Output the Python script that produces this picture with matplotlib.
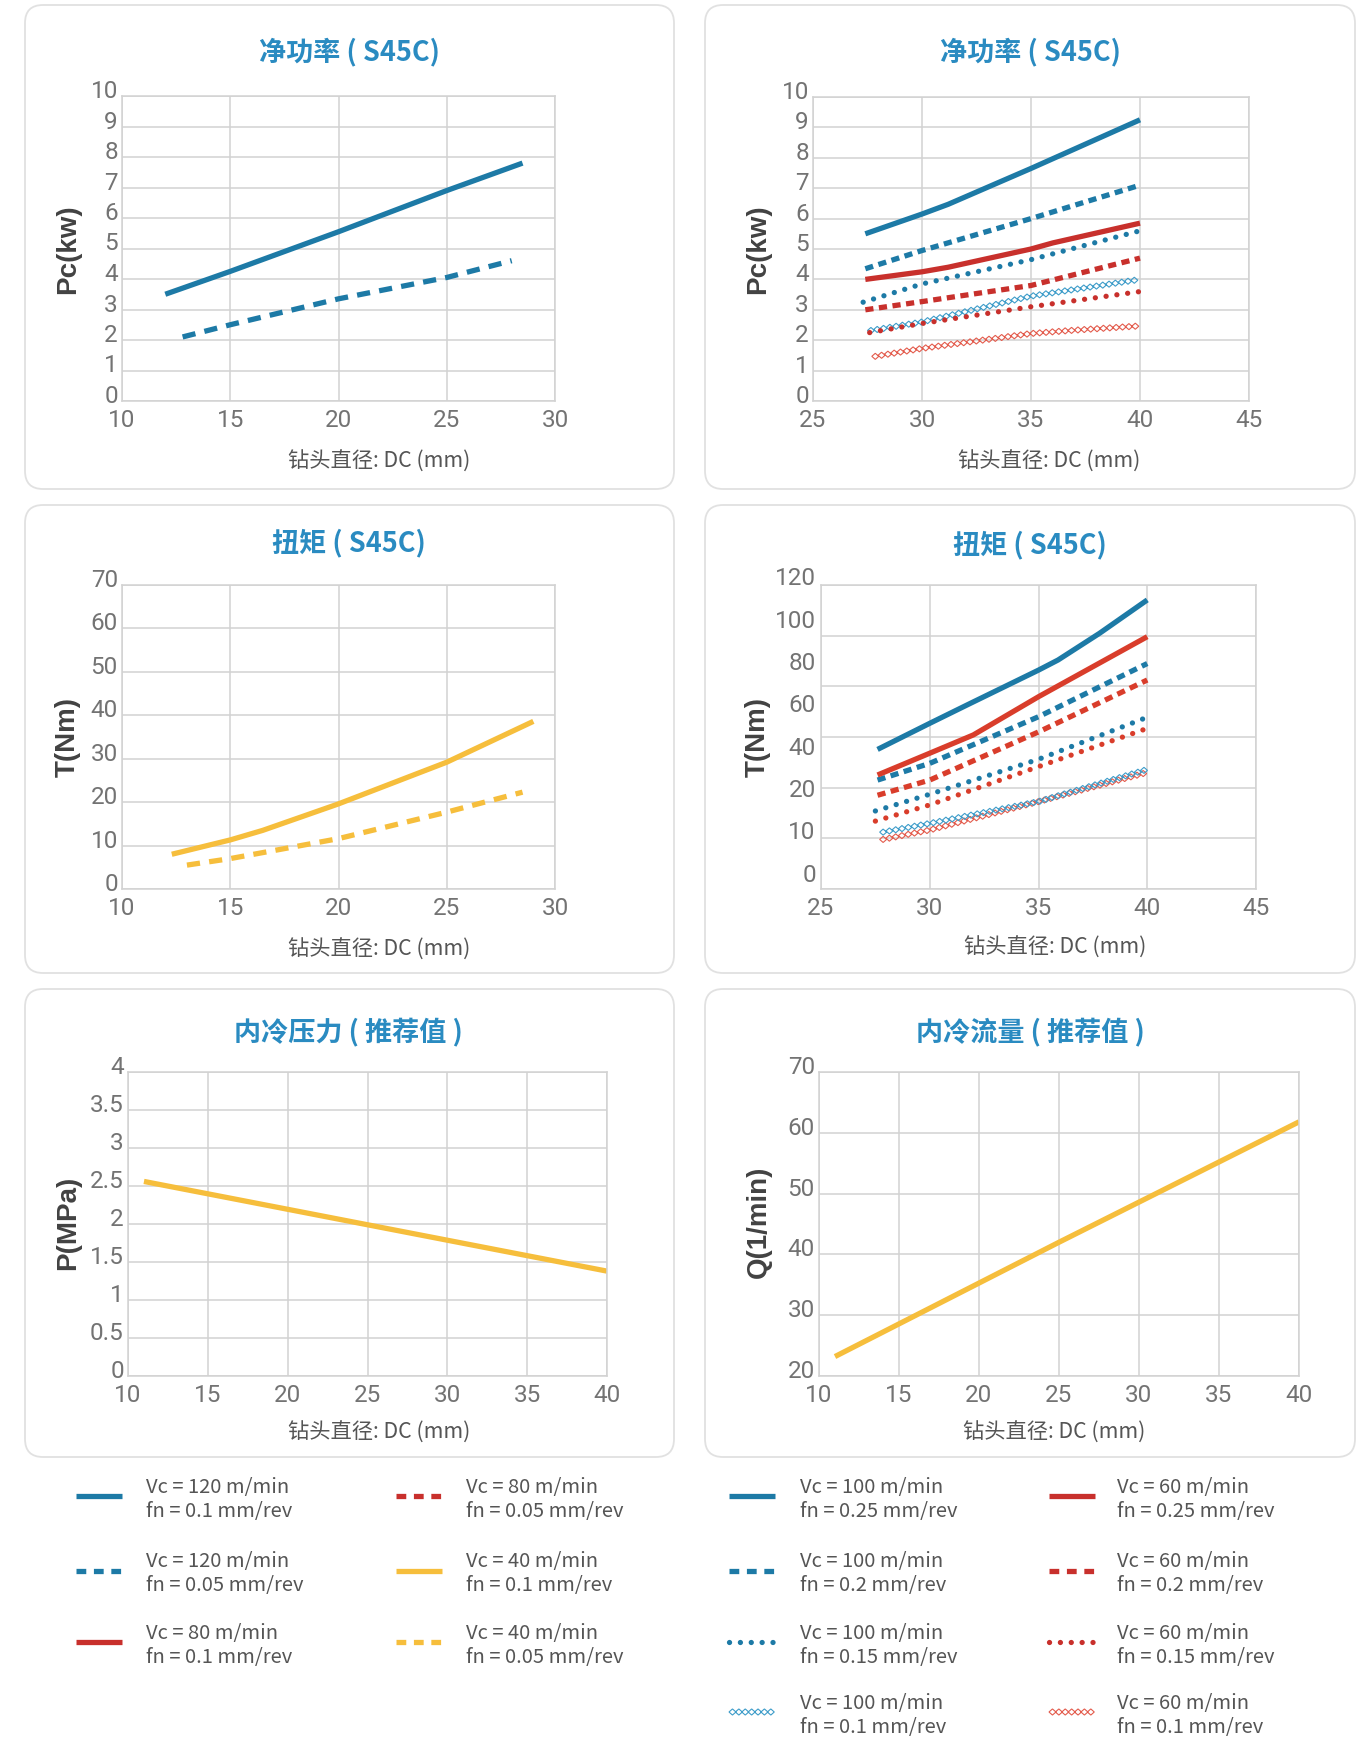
import numpy as np
import matplotlib
matplotlib.use("Agg")
import matplotlib.pyplot as plt
from matplotlib.patches import FancyBboxPatch
from matplotlib.patheffects import AbstractPathEffect
from matplotlib.path import Path
from matplotlib.transforms import IdentityTransform, ScaledTranslation

plt.rcParams["font.family"] = ["Noto Sans CJK SC", "DejaVu Sans"]

W, H = 1364, 1737

# ---------------- data ----------------
# 净功率 (S45C), drill diameters 10-30 mm
PC_S_DC_V120_F010 = [12.0, 15.0, 20.0, 25.0, 28.5]
PC_S_V120_F010 = [3.5, 4.25, 5.55, 6.9, 7.8]
PC_S_DC_V120_F005 = [12.8, 15.0, 20.0, 25.0, 28.0]
PC_S_V120_F005 = [2.1, 2.5, 3.35, 4.05, 4.6]

# 净功率 (S45C), drill diameters 27-40 mm
PC_L_DC_V100_F025 = [27.4, 30.0, 31.2, 35.0, 40.0]
PC_L_V100_F025 = [5.5, 6.15, 6.47, 7.65, 9.25]
PC_L_DC_V100_F020 = [27.4, 30.0, 35.0, 40.0]
PC_L_V100_F020 = [4.35, 4.95, 6.0, 7.1]
PC_L_DC_V100_F015 = [27.3, 30.0, 35.0, 40.0]
PC_L_V100_F015 = [3.25, 3.85, 4.65, 5.6]
PC_L_DC_V100_F010 = [27.5, 30.0, 35.0, 40.0]
PC_L_V100_F010 = [2.3, 2.6, 3.45, 4.0]
PC_L_DC_V60_F025 = [27.4, 30.0, 31.2, 35.0, 36.0, 40.0]
PC_L_V60_F025 = [4.0, 4.25, 4.4, 5.0, 5.2, 5.85]
PC_L_DC_V60_F020 = [27.4, 30.0, 35.0, 40.0]
PC_L_V60_F020 = [3.0, 3.27, 3.8, 4.7]
PC_L_DC_V60_F015 = [27.6, 30.0, 35.0, 40.0]
PC_L_V60_F015 = [2.25, 2.55, 3.1, 3.6]
PC_L_DC_V60_F010 = [27.7, 30.0, 35.0, 37.0, 40.0]
PC_L_V60_F010 = [1.45, 1.73, 2.22, 2.33, 2.47]

# 扭矩 (S45C), drill diameters 10-30 mm
T_S_DC_V40_F010 = [12.3, 15.0, 16.5, 20.0, 25.0, 29.0]
T_S_V40_F010 = [8.0, 11.3, 13.5, 19.6, 29.2, 38.6]
T_S_DC_V40_F005 = [13.0, 15.0, 20.0, 25.0, 28.5]
T_S_V40_F005 = [5.5, 7.0, 11.6, 17.7, 22.3]

# 扭矩 (S45C), drill diameters 27-40 mm
T_L_DC_V100_F025 = [27.6, 30.0, 31.8, 35.0, 35.9, 37.8, 40.0]
T_L_V100_F025 = [55.1, 65.4, 73.0, 86.4, 90.4, 100.9, 114.1]
T_L_DC_V100_F020 = [27.6, 30.0, 35.0, 40.0]
T_L_V100_F020 = [43.0, 49.6, 68.0, 89.0]
T_L_DC_V100_F015 = [27.5, 30.0, 35.0, 40.0]
T_L_V100_F015 = [30.8, 37.4, 51.2, 67.8]
T_L_DC_V100_F010 = [27.7, 30.0, 35.0, 40.0]
T_L_V100_F010 = [22.2, 25.9, 34.5, 47.2]
T_L_DC_V60_F025 = [27.6, 30.0, 32.0, 35.0, 40.0]
T_L_V60_F025 = [45.0, 53.6, 60.8, 75.9, 99.6]
T_L_DC_V60_F020 = [27.6, 30.0, 35.0, 40.0]
T_L_V60_F020 = [37.0, 43.0, 62.0, 82.5]
T_L_DC_V60_F015 = [27.5, 30.0, 35.0, 40.0]
T_L_V60_F015 = [26.8, 33.2, 48.3, 63.4]
T_L_DC_V60_F010 = [27.7, 30.0, 35.0, 40.0]
T_L_V60_F010 = [19.3, 23.3, 34.5, 46.0]
T_L_TICK_TEXT = ["0", "10", "20", "40", "60", "80", "100", "120"]

# 内冷压力 / 内冷流量 (推荐值)
COOL_DC = [11.0, 25.0, 40.0]
COOL_P = [2.56, 1.99, 1.38]
COOL_Q = [23.2, 42.0, 61.8]

# legend texts
LEG_L_VC = ["Vc = 120 m/min", "Vc = 120 m/min", "Vc = 80 m/min",
            "Vc = 80 m/min", "Vc = 40 m/min", "Vc = 40 m/min"]
LEG_L_FN = ["fn = 0.1 mm/rev", "fn = 0.05 mm/rev", "fn = 0.1 mm/rev",
            "fn = 0.05 mm/rev", "fn = 0.1 mm/rev", "fn = 0.05 mm/rev"]
LEG_R_VC = ["Vc = 100 m/min"] * 4 + ["Vc = 60 m/min"] * 4
LEG_R_FN = ["fn = 0.25 mm/rev", "fn = 0.2 mm/rev", "fn = 0.15 mm/rev", "fn = 0.1 mm/rev"] * 2

# ---------------- styling ----------------
BLUE = "#1d7aa6"
BLUE_LIGHT = "#3d9cc9"
RED = "#c8302c"
RED_T = "#d93d2b"
RED_LIGHT = "#e35b4c"
YELLOW = "#f6be3c"
TITLE_C = "#2a8bc1"
GRID_C = "#d2d2d2"
TICK_C = "#737373"
LABEL_C = "#424242"
TEXT_C = "#555555"
LW = 3.8
TICK_FONT = dict(family=["Roboto", "DejaVu Sans"], fontweight="normal", fontsize=17.5, color=TICK_C)


class DiamondTrail(AbstractPathEffect):
    """Draws a chain of small open diamonds along the rendered path."""

    def __init__(self, color, step=4.6, half_w=2.5, half_h=2.2, width=0.8):
        super().__init__()
        self.color, self.step = color, step
        self.half_w, self.half_h, self.width = half_w, half_h, width

    def draw_path(self, renderer, gc, tpath, affine, rgbFace=None):
        xy = affine.transform(tpath.vertices)
        seg = np.hypot(*np.diff(xy, axis=0).T)
        cum = np.concatenate([[0.0], np.cumsum(seg)])
        step = renderer.points_to_pixels(self.step)
        hw = renderer.points_to_pixels(self.half_w)
        hh = renderer.points_to_pixels(self.half_h)
        s = np.arange(hw, cum[-1] - 0.5 * hw, step)
        if len(s) == 0:
            return
        cx = np.interp(s, cum, xy[:, 0])
        cy = np.interp(s, cum, xy[:, 1])
        verts, codes = [], []
        for x, y in zip(cx, cy):
            verts += [(x - hw, y), (x, y + hh), (x + hw, y), (x, y - hh), (x - hw, y)]
            codes += [Path.MOVETO, Path.LINETO, Path.LINETO, Path.LINETO, Path.CLOSEPOLY]
        gc0 = renderer.new_gc()
        gc0.copy_properties(gc)
        gc0.set_foreground(self.color)
        gc0.set_linewidth(self.width)
        gc0.set_dashes(0, None)
        gc0.set_joinstyle("miter")
        renderer.draw_path(gc0, Path(verts, codes), IdentityTransform(), None)
        gc0.restore()


def style(kind, color, dash=None):
    if kind == "solid":
        return dict(color=color, lw=LW, ls="-", solid_capstyle="butt")
    if kind == "dash":
        return dict(color=color, lw=LW, ls=(0, dash), dash_capstyle="butt")
    if kind == "dot":
        return dict(color=color, lw=LW, ls=(0, (0.01, 2.05)), dash_capstyle="round")
    return dict(color=color, lw=1, path_effects=[DiamondTrail(color)])


LONG_DASH = (2.5, 1.75)
SHORT_DASH = (1.55, 1.05)
LEG_DASH = (1.85, 1.45)

fig = plt.figure(figsize=(W / 100, H / 100), dpi=100, facecolor="white")

# background layer in pixel coordinates: panels, titles, labels, legend
bg = fig.add_axes([0, 0, 1, 1])
bg.set_xlim(0, W)
bg.set_ylim(H, 0)
bg.axis("off")

PANELS = [(25, 5, 674, 489), (705, 5, 1355, 489),
          (25, 505, 674, 973), (705, 505, 1355, 973),
          (25, 989, 674, 1457), (705, 989, 1355, 1457)]
for x0, y0, x1, y1 in PANELS:
    bg.add_patch(FancyBboxPatch((x0, y0), x1 - x0, y1 - y0,
                                boxstyle="round,pad=0,rounding_size=18",
                                fc="white", ec="#e1e1e1", lw=1.3))


def make_axes(x0, y0, x1, y1):
    return fig.add_axes([x0 / W, 1 - y1 / H, (x1 - x0) / W, (y1 - y0) / H])


def dress(ax, xlim, xticks, ylim, yticks, ylabels=True):
    ax.set_xlim(*xlim)
    ax.set_ylim(*ylim)
    ax.set_xticks(xticks)
    ax.set_yticks(yticks)
    ax.set_xticklabels([f"{t:g}" for t in xticks])
    if ylabels:
        ax.set_yticklabels([f"{t:g}" for t in yticks])
    else:
        ax.set_yticklabels([])
    ax.grid(True, color=GRID_C, lw=1.1)
    ax.set_axisbelow(True)
    for sp in ax.spines.values():
        sp.set_color(GRID_C)
        sp.set_linewidth(1.1)
    ax.tick_params(length=0, pad=3)
    ax.tick_params(axis="x", pad=6)
    up = ScaledTranslation(0, 0.07, fig.dpi_scale_trans)
    for lbl in ax.get_xticklabels() + ax.get_yticklabels():
        lbl.set_fontfamily(TICK_FONT["family"])
        lbl.set_fontweight(TICK_FONT["fontweight"])
        lbl.set_fontsize(TICK_FONT["fontsize"])
        lbl.set_color(TICK_FONT["color"])
    for lbl in ax.get_yticklabels():
        lbl.set_transform(lbl.get_transform() + up)


def header(cx, cy, text):
    bg.text(cx, cy, text, ha="center", va="center", fontsize=19.5,
            fontweight="bold", color=TITLE_C)


def xlab(cx, cy):
    bg.text(cx, cy, "钻头直径: DC (mm)", ha="center", va="center",
            fontsize=15.3, color=TEXT_C)


def ylab(cx, cy, text):
    bg.text(cx, cy, text, ha="center", va="center", rotation=90, fontsize=20,
            fontweight="bold", color=LABEL_C,
            family=["Liberation Sans", "DejaVu Sans"])


# ---- 净功率, small ----
ax = make_axes(122, 96, 555, 401)
ax.plot(PC_S_DC_V120_F010, PC_S_V120_F010, **style("solid", BLUE))
ax.plot(PC_S_DC_V120_F005, PC_S_V120_F005, **style("dash", BLUE, LONG_DASH))
dress(ax, (10, 30), range(10, 31, 5), (0, 10), range(0, 11))
header(349, 52, "净功率 ( S45C)")
xlab(379, 462)
ylab(68, 249, "Pc(kw)")

# ---- 净功率, large ----
ax = make_axes(813, 97, 1249, 401)
ax.plot(PC_L_DC_V60_F010, PC_L_V60_F010, **style("diamond", RED_LIGHT))
ax.plot(PC_L_DC_V100_F010, PC_L_V100_F010, **style("diamond", BLUE_LIGHT))
ax.plot(PC_L_DC_V60_F015, PC_L_V60_F015, **style("dot", RED))
ax.plot(PC_L_DC_V60_F020, PC_L_V60_F020, **style("dash", RED, SHORT_DASH))
ax.plot(PC_L_DC_V100_F015, PC_L_V100_F015, **style("dot", BLUE))
ax.plot(PC_L_DC_V60_F025, PC_L_V60_F025, **style("solid", RED))
ax.plot(PC_L_DC_V100_F020, PC_L_V100_F020, **style("dash", BLUE, SHORT_DASH))
ax.plot(PC_L_DC_V100_F025, PC_L_V100_F025, **style("solid", BLUE))
dress(ax, (25, 45), range(25, 46, 5), (0, 10), range(0, 11))
header(1030, 52, "净功率 ( S45C)")
xlab(1049, 462)
ylab(758, 249, "Pc(kw)")

# ---- 扭矩, small ----
ax = make_axes(122, 585, 555, 889)
ax.plot(T_S_DC_V40_F010, T_S_V40_F010, **style("solid", YELLOW))
ax.plot(T_S_DC_V40_F005, T_S_V40_F005, **style("dash", YELLOW, LONG_DASH))
dress(ax, (10, 30), range(10, 31, 5), (0, 70), range(0, 71, 10))
header(349, 543, "扭矩 ( S45C)")
xlab(379, 950)
ylab(68, 737, "T(Nm)")

# ---- 扭矩, large ----
ax = make_axes(821, 585, 1256, 889)
ax.plot(T_L_DC_V60_F010, T_L_V60_F010, **style("diamond", RED_LIGHT))
ax.plot(T_L_DC_V100_F010, T_L_V100_F010, **style("diamond", BLUE_LIGHT))
ax.plot(T_L_DC_V60_F015, T_L_V60_F015, **style("dot", RED_T))
ax.plot(T_L_DC_V100_F015, T_L_V100_F015, **style("dot", BLUE))
ax.plot(T_L_DC_V60_F020, T_L_V60_F020, **style("dash", RED_T, SHORT_DASH))
ax.plot(T_L_DC_V100_F020, T_L_V100_F020, **style("dash", BLUE, SHORT_DASH))
ax.plot(T_L_DC_V60_F025, T_L_V60_F025, **style("solid", RED_T))
ax.plot(T_L_DC_V100_F025, T_L_V100_F025, **style("solid", BLUE))
dress(ax, (25, 45), range(25, 46, 5), (0, 120), range(0, 121, 20), ylabels=False)
n = len(T_L_TICK_TEXT)
for i, s in enumerate(T_L_TICK_TEXT):
    ax.text(-0.012, 0.045 + i * 0.975 / (n - 1), s, transform=ax.transAxes,
            ha="right", va="center", **TICK_FONT)
header(1030, 545, "扭矩 ( S45C)")
xlab(1055, 948)
ylab(758, 737, "T(Nm)")

# ---- 内冷压力 ----
ax = make_axes(128, 1072, 607, 1376)
ax.plot(COOL_DC, COOL_P, **style("solid", YELLOW))
dress(ax, (10, 40), range(10, 41, 5), (0, 4), np.arange(0, 4.01, 0.5))
header(348, 1032, "内冷压力 ( 推荐值 )")
xlab(379, 1433)
ylab(68, 1223, "P(MPa)")

# ---- 内冷流量 ----
ax = make_axes(819, 1072, 1299, 1376)
ax.plot(COOL_DC, COOL_Q, **style("solid", YELLOW))
dress(ax, (10, 40), range(10, 41, 5), (20, 70), range(20, 71, 10))
header(1030, 1032, "内冷流量 ( 推荐值 )")
xlab(1054, 1433)
ylab(759, 1222, "Q(1/min)")

# ---------------- legends ----------------
LEG_L_STYLES = [style("solid", BLUE), style("dash", BLUE, LEG_DASH), style("solid", RED),
                style("dash", RED, LEG_DASH), style("solid", YELLOW), style("dash", YELLOW, LEG_DASH)]
LEG_R_STYLES = [style("solid", BLUE), style("dash", BLUE, LEG_DASH), style("dot", BLUE),
                style("diamond", BLUE_LIGHT), style("solid", RED), style("dash", RED, LEG_DASH),
                style("dot", RED), style("diamond", RED_LIGHT)]
ROW_Y = [1496, 1571, 1642, 1712]


def legend_block(styles, vcs, fns, cols, per_col):
    for i, (st, vc, fn) in enumerate(zip(styles, vcs, fns)):
        hx0, tx = cols[i // per_col]
        y = ROW_Y[i % per_col]
        bg.plot([hx0, hx0 + 46], [y, y], **st)
        bg.text(tx, y - 9, vc, ha="left", va="center", fontsize=14.5, color=TEXT_C)
        bg.text(tx, y + 15, fn, ha="left", va="center", fontsize=14.5, color=TEXT_C)


legend_block(LEG_L_STYLES, LEG_L_VC, LEG_L_FN, [(76, 146), (396, 466)], 3)
legend_block(LEG_R_STYLES, LEG_R_VC, LEG_R_FN, [(729, 800), (1049, 1117)], 4)

fig.savefig("out.png", dpi=100, facecolor="white")
